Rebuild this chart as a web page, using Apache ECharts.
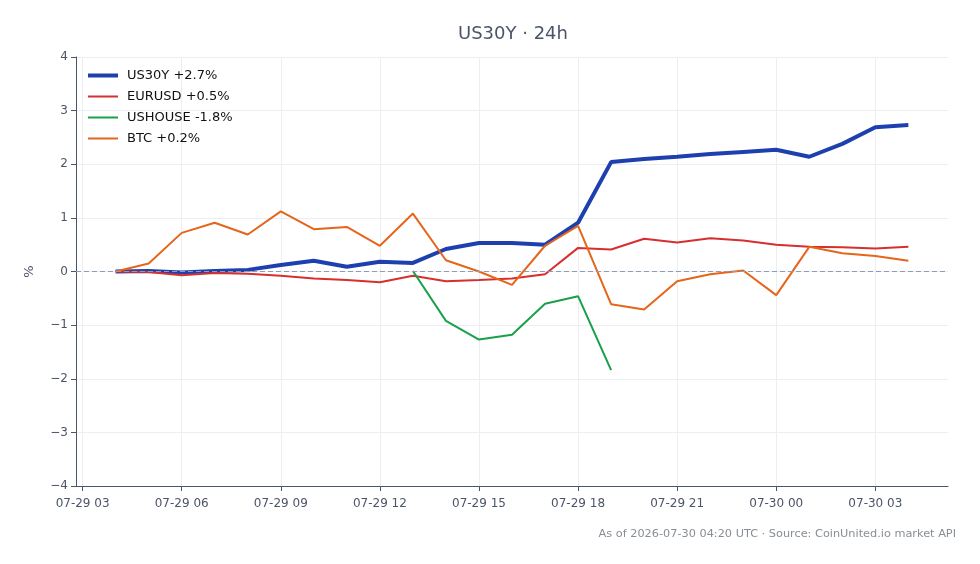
<!DOCTYPE html>
<html>
<head>
<meta charset="utf-8">
<script src="https://cdn.jsdelivr.net/npm/echarts@6/dist/echarts.min.js"></script>
<style>
html,body{margin:0;padding:0;background:#fff;}
#chart{width:980px;height:564px;}
</style>
</head>
<body>
<div id="chart"></div>
<script>
// Hourly timestamps (07-29 04:00 → 07-30 04:00)
const times = [
  '2026-07-29 04:00','2026-07-29 05:00','2026-07-29 06:00','2026-07-29 07:00','2026-07-29 08:00',
  '2026-07-29 09:00','2026-07-29 10:00','2026-07-29 11:00','2026-07-29 12:00','2026-07-29 13:00',
  '2026-07-29 14:00','2026-07-29 15:00','2026-07-29 16:00','2026-07-29 17:00','2026-07-29 18:00',
  '2026-07-29 19:00','2026-07-29 20:00','2026-07-29 21:00','2026-07-29 22:00','2026-07-29 23:00',
  '2026-07-30 00:00','2026-07-30 01:00','2026-07-30 02:00','2026-07-30 03:00','2026-07-30 04:00'
];
const us30y = [0.00,0.01,-0.02,0.01,0.03,0.12,0.20,0.09,0.18,0.16,0.42,0.53,0.53,0.50,0.91,2.04,2.10,2.14,2.19,2.23,2.27,2.14,2.38,2.69,2.73];
const eurusd = [0.00,-0.01,-0.07,-0.03,-0.04,-0.08,-0.13,-0.16,-0.20,-0.08,-0.18,-0.16,-0.13,-0.05,0.44,0.41,0.61,0.54,0.62,0.58,0.50,0.46,0.45,0.43,0.46];
const ushouse = [null,null,null,null,null,null,null,null,null,0.01,-0.92,-1.27,-1.18,-0.60,-0.46,-1.84,null,null,null,null,null,null,null,null,null];
const btc = [0.00,0.15,0.72,0.91,0.69,1.12,0.79,0.83,0.48,1.08,0.21,0.00,-0.25,0.48,0.85,-0.61,-0.71,-0.18,-0.05,0.02,-0.44,0.46,0.34,0.29,0.20];
const seriesNames = ['US30Y +2.7%','EURUSD +0.5%','USHOUSE -1.8%','BTC +0.2%'];
const xTickLabels = ['2026-07-29 03:00','2026-07-29 06:00','2026-07-29 09:00','2026-07-29 12:00','2026-07-29 15:00','2026-07-29 18:00','2026-07-29 21:00','2026-07-30 00:00','2026-07-30 03:00'];

function parseT(s){
  const [d,t] = s.split(' ');
  const [Y,M,D] = d.split('-').map(Number);
  const [h,m] = t.split(':').map(Number);
  return Date.UTC(Y,M-1,D,h,m);
}
const tx = times.map(parseT);
const pad = (tx[tx.length-1]-tx[0])*0.05;
const xTicks = xTickLabels.map(parseT);
function pair(vals){ return vals.map((v,i)=>[tx[i], v]); }
function two(n){ return (n<10?'0':'')+n; }

const FONT = 'DejaVu Sans';
const AX = '#4a5568';
const colors = ['#1e40af','#d62f2f','#18a04a','#e5651a'];
const widths = [4,2,2,2];
const chart = echarts.init(document.getElementById('chart'));
chart.setOption({
  animation:false,
  textStyle:{fontFamily:FONT},
  title:{text:'US30Y · 24h', left:453, top:20,
    textStyle:{fontFamily:FONT,fontSize:18,fontWeight:'normal',color:AX}},
  graphic:[{type:'text', right:24, top:529,
    style:{text:'As of 2026-07-30 04:20 UTC · Source: CoinUnited.io market API', font:'11.3px "DejaVu Sans"', fill:'#888e96'}}],
  legend:{orient:'vertical', left:81, top:64, itemWidth:30, itemHeight:14, itemGap:8,
    itemStyle:{opacity:0},
    textStyle:{fontFamily:FONT,fontSize:13,color:'#111',padding:[0,0,0,4]},
    data:seriesNames.map((n,i)=>({name:n, lineStyle:{width:widths[i], color:colors[i]}}))},
  grid:{left:76,right:32,top:57,bottom:78},
  xAxis:{type:'value', min:tx[0]-pad, max:tx[tx.length-1]+pad,
    axisLine:{onZero:false, lineStyle:{color:AX}},
    axisTick:{show:true, customValues:xTicks, length:5, lineStyle:{color:AX}},
    axisLabel:{customValues:xTicks, color:AX, fontSize:12, fontFamily:FONT, margin:12,
      formatter:function(v){const d=new Date(v);return two(d.getUTCMonth()+1)+'-'+two(d.getUTCDate())+' '+two(d.getUTCHours());}},
    splitLine:{show:true, lineStyle:{color:'#eceef2'}}},
  yAxis:{type:'value', min:-4, max:4, interval:1,
    name:'%', nameLocation:'middle', nameGap:40, nameRotate:90,
    nameTextStyle:{color:AX,fontSize:13,fontFamily:FONT},
    axisLine:{show:true, lineStyle:{color:AX}},
    axisTick:{show:true, length:5, lineStyle:{color:AX}},
    axisLabel:{color:AX, fontSize:12, fontFamily:FONT, margin:8, formatter:v=>String(v).replace('-','\u2212')},
    splitLine:{show:true, lineStyle:{color:'#eceef2'}}},
  series:[
    {name:seriesNames[0], type:'line', data:pair(us30y), symbol:'none', lineStyle:{width:widths[0],color:colors[0]}, itemStyle:{color:colors[0]}, z:3,
      markLine:{silent:true, symbol:'none', label:{show:false}, lineStyle:{type:[5,3],color:'#8f9cb8',width:1}, data:[{yAxis:0}]}},
    {name:seriesNames[1], type:'line', data:pair(eurusd), symbol:'none', lineStyle:{width:widths[1],color:colors[1]}, itemStyle:{color:colors[1]}, z:3},
    {name:seriesNames[2], type:'line', data:pair(ushouse), symbol:'none', lineStyle:{width:widths[2],color:colors[2]}, itemStyle:{color:colors[2]}, z:3},
    {name:seriesNames[3], type:'line', data:pair(btc), symbol:'none', lineStyle:{width:widths[3],color:colors[3]}, itemStyle:{color:colors[3]}, z:3}
  ]
});
</script>
</body>
</html>
